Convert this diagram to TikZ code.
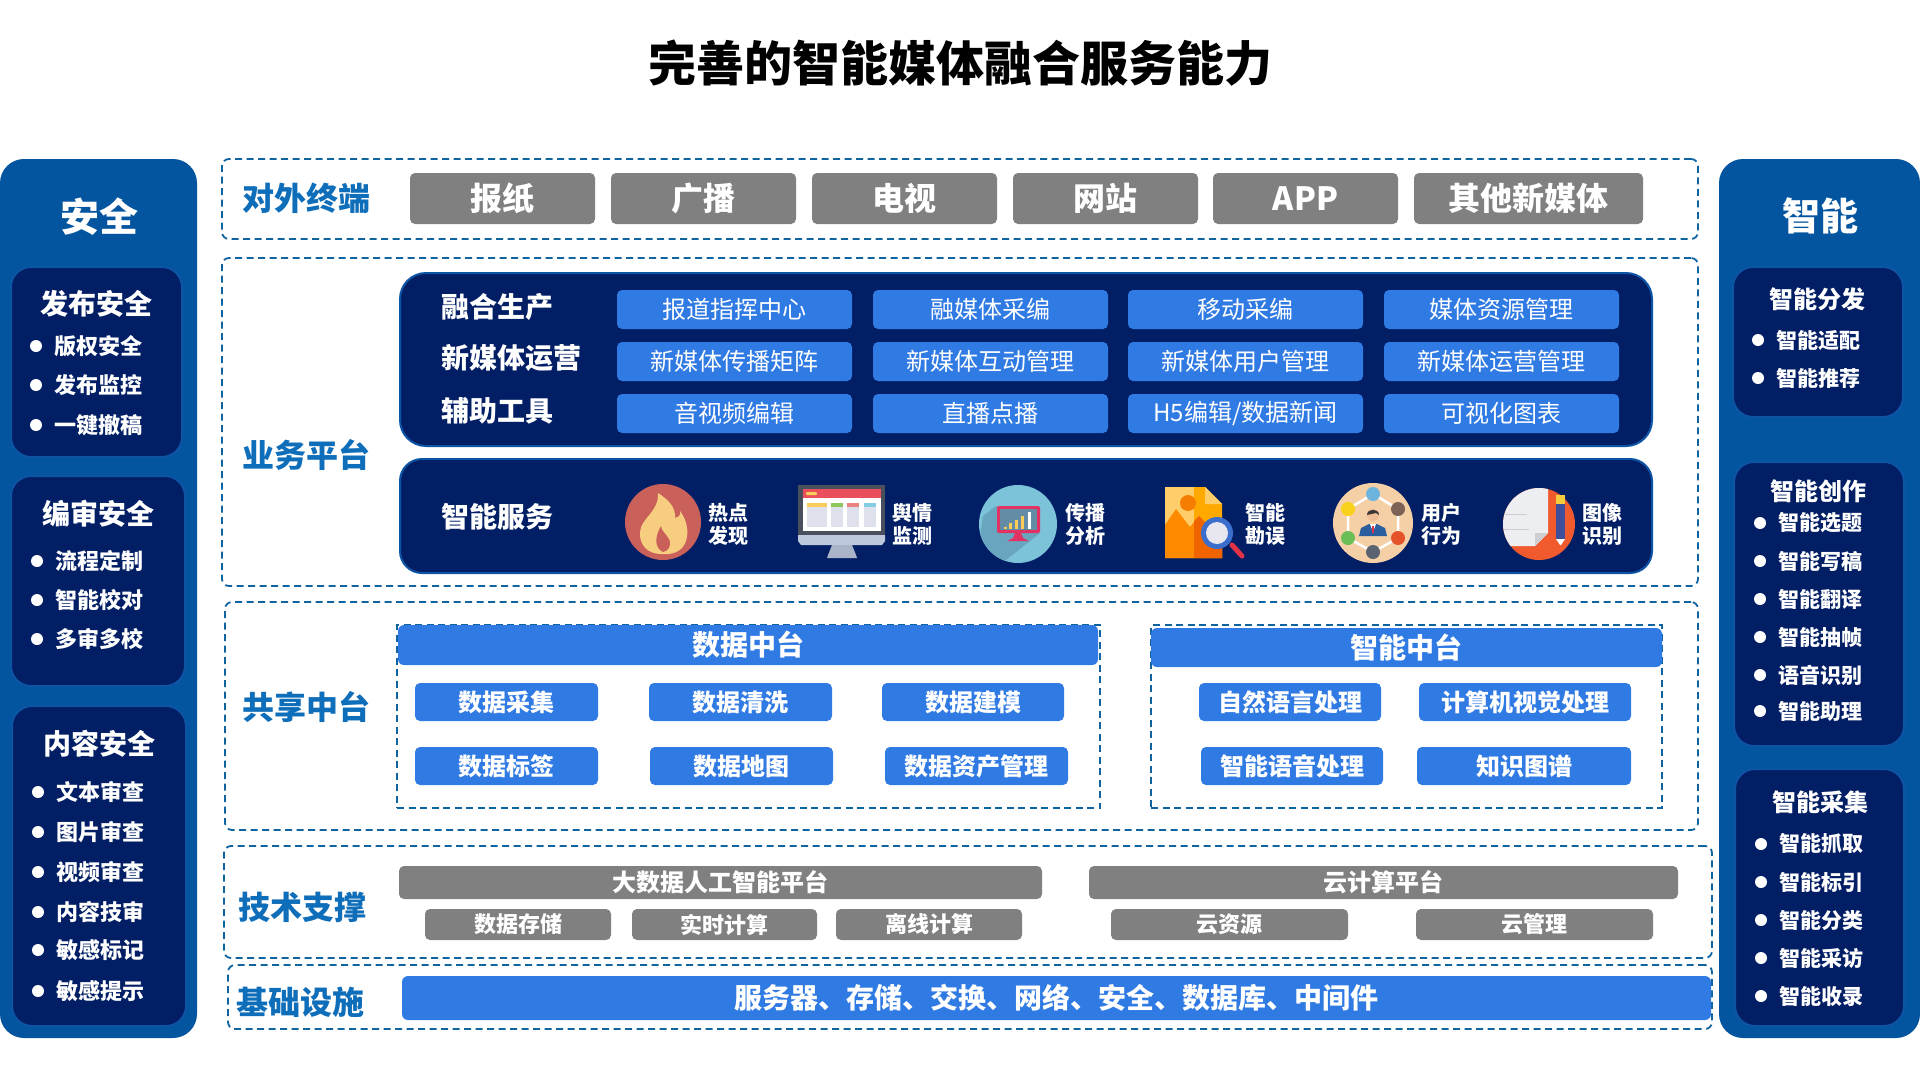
\documentclass[tikz,border=0pt]{standalone}
\usepackage{fontspec}
\setmainfont{Noto Sans CJK SC}
\definecolor{sidecol}{RGB}{4,85,160}
\definecolor{navycol}{RGB}{2,31,102}
\definecolor{edgecol}{RGB}{14,84,164}
\definecolor{bluecol}{RGB}{48,122,228}
\definecolor{greycol}{RGB}{128,128,128}
\definecolor{dashcol}{RGB}{15,100,160}
\definecolor{tagcol}{RGB}{15,110,185}
% icon colours
\definecolor{flamered}{RGB}{201,96,90}
\definecolor{flamegold}{RGB}{247,206,128}
\definecolor{screenline}{RGB}{74,79,94}
\definecolor{screenred}{RGB}{233,80,91}
\definecolor{paleyellow}{RGB}{250,205,90}
\definecolor{palecol}{RGB}{222,225,235}
\definecolor{palegreen}{RGB}{140,200,90}
\definecolor{palered}{RGB}{235,130,130}
\definecolor{paleblue}{RGB}{130,205,225}
\definecolor{standlight}{RGB}{190,200,220}
\definecolor{standdark}{RGB}{170,180,200}
\definecolor{spreadblue}{RGB}{124,195,218}
\definecolor{spreadshade}{RGB}{105,165,190}
\definecolor{spreadpink}{RGB}{226,50,100}
\definecolor{spreadscreen}{RGB}{100,140,165}
\definecolor{docorange}{RGB}{255,168,0}
\definecolor{docgold}{RGB}{255,205,105}
\definecolor{docmount}{RGB}{255,138,0}
\definecolor{docdeep}{RGB}{240,100,0}
\definecolor{docsun}{RGB}{245,125,0}
\definecolor{lensred}{RGB}{226,50,70}
\definecolor{lensblue}{RGB}{60,110,205}
\definecolor{lensglass}{RGB}{232,230,238}
\definecolor{userskin}{RGB}{245,207,165}
\definecolor{userblue}{RGB}{108,180,221}
\definecolor{userbrown}{RGB}{125,99,86}
\definecolor{userred}{RGB}{229,83,43}
\definecolor{usergrey}{RGB}{91,98,112}
\definecolor{usergreen}{RGB}{107,190,85}
\definecolor{useryellow}{RGB}{249,209,27}
\definecolor{usersuit}{RGB}{43,94,158}
\definecolor{userface}{RGB}{240,190,150}
\definecolor{userhair}{RGB}{60,55,55}
\definecolor{pagered}{RGB}{240,90,44}
\definecolor{pagewhite}{RGB}{236,238,242}
\definecolor{pageline}{RGB}{205,205,210}
\definecolor{pencilblue}{RGB}{63,78,154}
\definecolor{pencilgold}{RGB}{245,205,60}
\tikzset{
	fs/.style={font=\fontsize{#1pt}{#1pt}\selectfont},
	fsb/.style={font=\fontsize{#1pt}{#1pt}\selectfont\bfseries},
	sidepanel/.style={fill=sidecol,rounded corners=24pt},
	navypanel/.style={fill=navycol,draw=edgecol,line width=2pt,rounded corners=20pt},
	dashbox/.style={draw=dashcol,line width=1.8pt,dash pattern=on 7pt off 4.5pt,rounded corners=7pt},
	greybtn/.style={fill=greycol,rounded corners=5pt,text=white},
	bluebtn/.style={fill=bluecol,rounded corners=5pt,text=white},
	whitetext/.style={text=white,inner sep=0pt},
	tagtext/.style={text=tagcol,inner sep=0pt,fsb=32},
	dotmark/.style={circle,fill=white,minimum size=12pt,inner sep=0pt},
	icontext/.style={text=white,inner sep=0pt,align=center,font=\fontsize{20pt}{23pt}\selectfont\bfseries},
}
\def\areabox[#1](#2)(#3,#4)(#5,#6)#7{\node[#1,minimum width={#5pt-#3pt},minimum height={#6pt-#4pt},inner sep=0pt] (#2) at ({(#3+#5)/2},{(#4+#6)/2}) {#7};}
\def\bulletitem[#1](#2)(#3,#4)#5{\node[dotmark] (#2) at (#3,#4) {};\node[whitetext,anchor=west,#1] (#2t) at ([xshift=18pt]#2.center) {#5};}
\begin{document}
\begin{tikzpicture}[x=1pt,y=-1pt]
	%%%%% START %%%%%
	\useasboundingbox (0,0) rectangle (1920,1080);
	\fill[white] (0,0) rectangle (1920,1080);

	\node[inner sep=0pt,fsb=48] (title) at (960,63) {完善的智能媒体融合服务能力};

	%%%%% left side %%%%%
	\areabox[sidepanel](safeside)(0,159)(197,1038){};
	\node[whitetext,fsb=39] (safetitle) at (99,217) {安全};
	\areabox[navypanel](safepub)(11,267)(182,457){};
	\areabox[navypanel](safeedit)(11,476)(185,686){};
	\areabox[navypanel](safetext)(12,706)(186,1026){};

	\node[whitetext,fsb=28] (safepubt) at (96,304) {发布安全};
	\bulletitem[fsb=22](pubA)(36,346){版权安全}
	\bulletitem[fsb=22](pubB)(36,385){发布监控}
	\bulletitem[fsb=22](pubC)(36,425){一键撤稿}

	\node[whitetext,fsb=28] (safeeditt) at (98,514) {编审安全};
	\bulletitem[fsb=22](editA)(37,561){流程定制}
	\bulletitem[fsb=22](editB)(37,600){智能校对}
	\bulletitem[fsb=22](editC)(37,639){多审多校}

	\node[whitetext,fsb=28] (safetextt) at (99,744) {内容安全};
	\bulletitem[fsb=22](textA)(38,792){文本审查}
	\bulletitem[fsb=22](textB)(38,832){图片审查}
	\bulletitem[fsb=22](textC)(38,872){视频审查}
	\bulletitem[fsb=22](textD)(38,912){内容技审}
	\bulletitem[fsb=22](textE)(38,950){敏感标记}
	\bulletitem[fsb=22](textF)(38,991){敏感提示}

	%%%%% right side %%%%%
	\areabox[sidepanel](smartside)(1719,159)(1920,1038){};
	\node[whitetext,fsb=38] (smarttitle) at (1820,216) {智能};
	\areabox[navypanel](smartdist)(1733,267)(1903,417){};
	\areabox[navypanel](smartmake)(1734,462)(1904,746){};
	\areabox[navypanel](smartget)(1735,769)(1904,1026){};

	\node[whitetext,fsb=24] (smartdistt) at (1817,299) {智能分发};
	\bulletitem[fsb=21](distA)(1758,340){智能适配}
	\bulletitem[fsb=21](distB)(1758,378){智能推荐}

	\node[whitetext,fsb=24] (smartmaket) at (1818,491) {智能创作};
	\bulletitem[fsb=21](makeA)(1760,523){智能选题}
	\bulletitem[fsb=21](makeB)(1760,561){智能写稿}
	\bulletitem[fsb=21](makeC)(1760,599){智能翻译}
	\bulletitem[fsb=21](makeD)(1760,637){智能抽帧}
	\bulletitem[fsb=21](makeE)(1760,675){语音识别}
	\bulletitem[fsb=21](makeF)(1760,711){智能助理}

	\node[whitetext,fsb=24] (smartgett) at (1820,802) {智能采集};
	\bulletitem[fsb=21](getA)(1761,844){智能抓取}
	\bulletitem[fsb=21](getB)(1761,882){智能标引}
	\bulletitem[fsb=21](getC)(1761,920){智能分类}
	\bulletitem[fsb=21](getD)(1761,958){智能采访}
	\bulletitem[fsb=21](getE)(1761,996){智能收录}

	%%%%% dashed rows %%%%%
	\areabox[dashbox](rowterm)(222,159)(1698,239){};
	\areabox[dashbox](rowbiz)(222,258)(1698,586){};
	\areabox[dashbox](rowshare)(225,602)(1698,830){};
	\areabox[dashbox](rowtech)(224,846)(1712,958){};
	\areabox[dashbox](rowbase)(228,965)(1712,1029){};

	\node[tagtext] (tagterm) at (306,198) {对外终端};
	\node[tagtext] (tagbiz) at (306,455) {业务平台};
	\node[tagtext] (tagshare) at (306,707) {共享中台};
	\node[tagtext] (tagtech) at (302,907) {技术支撑};
	\node[tagtext] (tagbase) at (300,1002) {基础设施};

	%%%%% terminals %%%%%
	\areabox[greybtn,fsb=32](termA)(410,173)(595,224){报纸}
	\areabox[greybtn,fsb=32](termB)(611,173)(796,224){广播}
	\areabox[greybtn,fsb=32](termC)(812,173)(997,224){电视}
	\areabox[greybtn,fsb=32](termD)(1013,173)(1198,224){网站}
	\areabox[greybtn,fsb=32](termE)(1213,173)(1398,224){APP}
	\areabox[greybtn,fsb=32](termF)(1414,173)(1643,224){其他新媒体}

	%%%%% business %%%%%
	\areabox[navypanel,rounded corners=26pt](bizup)(400,273)(1652,446){};
	\areabox[navypanel,rounded corners=22pt](bizdown)(400,459)(1652,573){};
	\node[whitetext,anchor=west,fsb=28] (bizA) at (441,307) {融合生产};
	\node[whitetext,anchor=west,fsb=28] (bizB) at (441,358) {新媒体运营};
	\node[whitetext,anchor=west,fsb=28] (bizC) at (441,411) {辅助工具};
	\node[whitetext,anchor=west,fsb=28] (bizD) at (441,517) {智能服务};

	\areabox[bluebtn,fs=24](prodA)(617,290)(852,329){报道指挥中心}
	\areabox[bluebtn,fs=24](prodB)(873,290)(1108,329){融媒体采编}
	\areabox[bluebtn,fs=24](prodC)(1128,290)(1363,329){移动采编}
	\areabox[bluebtn,fs=24](prodD)(1384,290)(1619,329){媒体资源管理}
	\areabox[bluebtn,fs=24](opsA)(617,342)(852,381){新媒体传播矩阵}
	\areabox[bluebtn,fs=24](opsB)(873,342)(1108,381){新媒体互动管理}
	\areabox[bluebtn,fs=24](opsC)(1128,342)(1363,381){新媒体用户管理}
	\areabox[bluebtn,fs=24](opsD)(1384,342)(1619,381){新媒体运营管理}
	\areabox[bluebtn,fs=24](toolA)(617,394)(852,433){音视频编辑}
	\areabox[bluebtn,fs=24](toolB)(873,394)(1108,433){直播点播}
	\areabox[bluebtn,fs=24](toolC)(1128,394)(1363,433){H5编辑/数据新闻}
	\areabox[bluebtn,fs=24](toolD)(1384,394)(1619,433){可视化图表}

	%%%%% service icons %%%%%
	% flame
	\begin{scope}[shift={(663,522)}]
		\fill[flamered] (0,0) circle (38);
		\fill[flamegold] (-2,32) .. controls (-16,32) and (-24,22) .. (-23,10) .. controls (-22,-4) and (-4,-10) .. (-5,-29) .. controls (6,-22) and (13,-14) .. (12,-4) .. controls (16,-5) and (18,-7) .. (17,-11) .. controls (24,-2) and (26,10) .. (23,19) .. controls (20,28) and (12,32) .. (4,32) -- cycle;
		\fill[flamered] (0,30) .. controls (-8,26) and (-9,16) .. (-2,4) .. controls (-1,12) and (8,14) .. (7,23) .. controls (6,27) and (4,29) .. (0,30) -- cycle;
	\end{scope}
	\node[icontext] (hotA) at (728,524) {热点\\发现};
	% monitor
	\fill[screenline] (798,485) rectangle (885,535);
	\fill[white] (803,489) rectangle (881,531);
	\fill[screenred] (803,489) rectangle (881,498);
	\fill[paleyellow,rounded corners=1pt] (806,492) rectangle (817,495);
	\fill[palecol] (807,503) rectangle (827,527);
	\fill[palecol] (831,503) rectangle (843,527);
	\fill[palecol] (847,503) rectangle (859,527);
	\fill[palecol] (864,503) rectangle (876,527);
	\fill[paleyellow] (807,503) rectangle (827,507);
	\fill[palegreen] (831,503) rectangle (843,507);
	\fill[palered] (847,503) rectangle (859,507);
	\fill[paleblue] (864,503) rectangle (876,507);
	\fill[standlight] (798,535) -- (885,535) -- (885,541) -- (882,545) -- (801,545) -- (798,541) -- cycle;
	\fill[standdark] (832,545) -- (852,545) -- (856,555) -- (857,558) -- (827,558) -- (828,555) -- cycle;
	\node[icontext] (opinionA) at (912,524) {舆情\\监测};
	% spread
	\begin{scope}[shift={(1018,524)}]
		\fill[spreadblue] (0,0) circle (39);
		\begin{scope}
			\clip (0,0) circle (39);
			\fill[spreadshade] (-35,-8) -- (-22,-18) -- (22,9) -- (-12,36) -- (-20,40) -- (-39,20) -- cycle;
		\end{scope}
		\fill[spreadpink,rounded corners=2pt] (-21,-18) rectangle (22,9);
		\fill[spreadscreen] (-18,-15) rectangle (19,6);
		\fill[spreadpink] (-3,9) -- (3,9) -- (5,14) -- (11,17) -- (-11,17) -- (-5,14) -- cycle;
		\fill[paleyellow] (-14,3) rectangle (-11,5);
		\fill[paleyellow] (-9,-1) rectangle (-6,5);
		\fill[paleyellow] (-3,-4) rectangle (0,5);
		\fill[paleyellow] (3,-8) rectangle (6,5);
		\fill[white] (10,-12) rectangle (13,5);
	\end{scope}
	\node[icontext] (spreadA) at (1085,524) {传播\\分析};
	% image check
	\fill[docorange] (1165,487) -- (1205,487) -- (1222,504) -- (1222,558) -- (1165,558) -- cycle;
	\fill[docgold] (1165,487) -- (1194,487) -- (1194,558) -- (1165,558) -- cycle;
	\fill[docgold] (1205,487) -- (1222,504) -- (1205,504) -- cycle;
	\fill[docmount] (1165,525) -- (1176,509) -- (1190,527) -- (1199,516) -- (1222,540) -- (1222,558) -- (1165,558) -- cycle;
	\fill[docdeep] (1194,521) -- (1199,516) -- (1222,540) -- (1222,558) -- (1194,558) -- cycle;
	\fill[docsun] (1188,503) circle (8);
	\draw[line width=5pt,lensred,line cap=round] (1232,545) -- (1242,556);
	\fill[lensblue] (1217,533) circle (16);
	\fill[lensglass] (1217,533) circle (11);
	\node[icontext] (checkA) at (1265,524) {智能\\勘误};
	% user
	\begin{scope}[shift={(1373,523)}]
		\fill[userskin] (0,0) circle (40);
		\draw[white,line width=2.5pt] (0,-29) -- (25,-14) -- (25,15) -- (0,29) -- (-25,15) -- (-25,-14) -- cycle;
		\fill[userblue] (0,-29) circle (7);
		\fill[userbrown] (25,-14) circle (7);
		\fill[userred] (25,15) circle (7);
		\fill[usergrey] (0,29) circle (7);
		\fill[usergreen] (-25,15) circle (7);
		\fill[useryellow] (-25,-14) circle (7);
		\fill[usersuit] (-14,13) -- (-12,5) -- (-4,1) -- (4,1) -- (12,5) -- (14,13) -- cycle;
		\fill[white] (-3,1) -- (3,1) -- (0,9) -- cycle;
		\fill[lensred] (-1,3) rectangle (1,10);
		\fill[userface] (0,-8) circle (6);
		\fill[userhair] (-6,-8) .. controls (-6,-15) and (6,-15) .. (6,-8) -- (3,-10) -- (-6,-8) -- cycle;
	\end{scope}
	\node[icontext] (userA) at (1441,524) {用户\\行为};
	% page and pencil
	\begin{scope}[shift={(1539,524)}]
		\fill[pagered] (0,0) circle (36);
		\begin{scope}
			\clip (0,0) circle (36);
			\fill[pagewhite] (-40,-38) -- (9,-38) -- (9,9) -- (-4,22) -- (-40,22) -- cycle;
		\end{scope}
		\fill[pageline] (9,9) -- (-4,22) -- (-4,9) -- cycle;
		\draw[pageline,line width=0.8pt] (-34,-10) -- (-12,-10);
		\draw[pageline,line width=0.8pt] (-35,5) -- (-10,5);
		\fill[pencilblue] (17,-20) rectangle (26,15);
		\fill[pencilgold] (17,-29) rectangle (26,-20);
		\fill[white] (17,15) -- (26,15) -- (22,21) -- (21,21) -- cycle;
	\end{scope}
	\node[icontext] (imageA) at (1602,524) {图像\\识别};

	%%%%% data and ai %%%%%
	\areabox[dashbox,rounded corners=0pt](databox)(397,625)(1100,808){};
	\areabox[bluebtn,fsb=28,rounded corners=6pt](datahead)(398,625)(1098,665){数据中台}
	\areabox[bluebtn,fsb=24](dataA)(415,683)(598,721){数据采集}
	\areabox[bluebtn,fsb=24](dataB)(649,683)(832,721){数据清洗}
	\areabox[bluebtn,fsb=24](dataC)(882,683)(1064,721){数据建模}
	\areabox[bluebtn,fsb=24](dataD)(415,747)(598,785){数据标签}
	\areabox[bluebtn,fsb=24](dataE)(650,747)(833,785){数据地图}
	\areabox[bluebtn,fsb=24](dataF)(885,747)(1068,785){数据资产管理}

	\areabox[dashbox,rounded corners=0pt](aibox)(1151,625)(1662,808){};
	\areabox[bluebtn,fsb=28,rounded corners=6pt](aihead)(1151,628)(1662,667){智能中台}
	\areabox[bluebtn,fsb=24](aiA)(1199,683)(1381,721){自然语言处理}
	\areabox[bluebtn,fsb=24](aiB)(1419,683)(1631,721){计算机视觉处理}
	\areabox[bluebtn,fsb=24](aiC)(1201,747)(1383,785){智能语音处理}
	\areabox[bluebtn,fsb=24](aiD)(1417,747)(1631,785){知识图谱}

	%%%%% tech %%%%%
	\areabox[greybtn,fsb=24](bigdata)(399,866)(1042,899){大数据人工智能平台}
	\areabox[greybtn,fsb=24](cloud)(1089,866)(1678,899){云计算平台}
	\areabox[greybtn,fsb=22](techA)(425,909)(611,940){数据存储}
	\areabox[greybtn,fsb=22](techB)(632,909)(817,940){实时计算}
	\areabox[greybtn,fsb=22](techC)(836,909)(1022,940){离线计算}
	\areabox[greybtn,fsb=22](techD)(1111,909)(1348,940){云资源}
	\areabox[greybtn,fsb=22](techE)(1416,909)(1653,940){云管理}

	%%%%% base %%%%%
	\areabox[bluebtn,fsb=28,rounded corners=6pt](basebar)(402,976)(1711,1020){服务器、存储、交换、网络、安全、数据库、中间件}
	%%%%% END %%%%%
\end{tikzpicture}
\end{document}
